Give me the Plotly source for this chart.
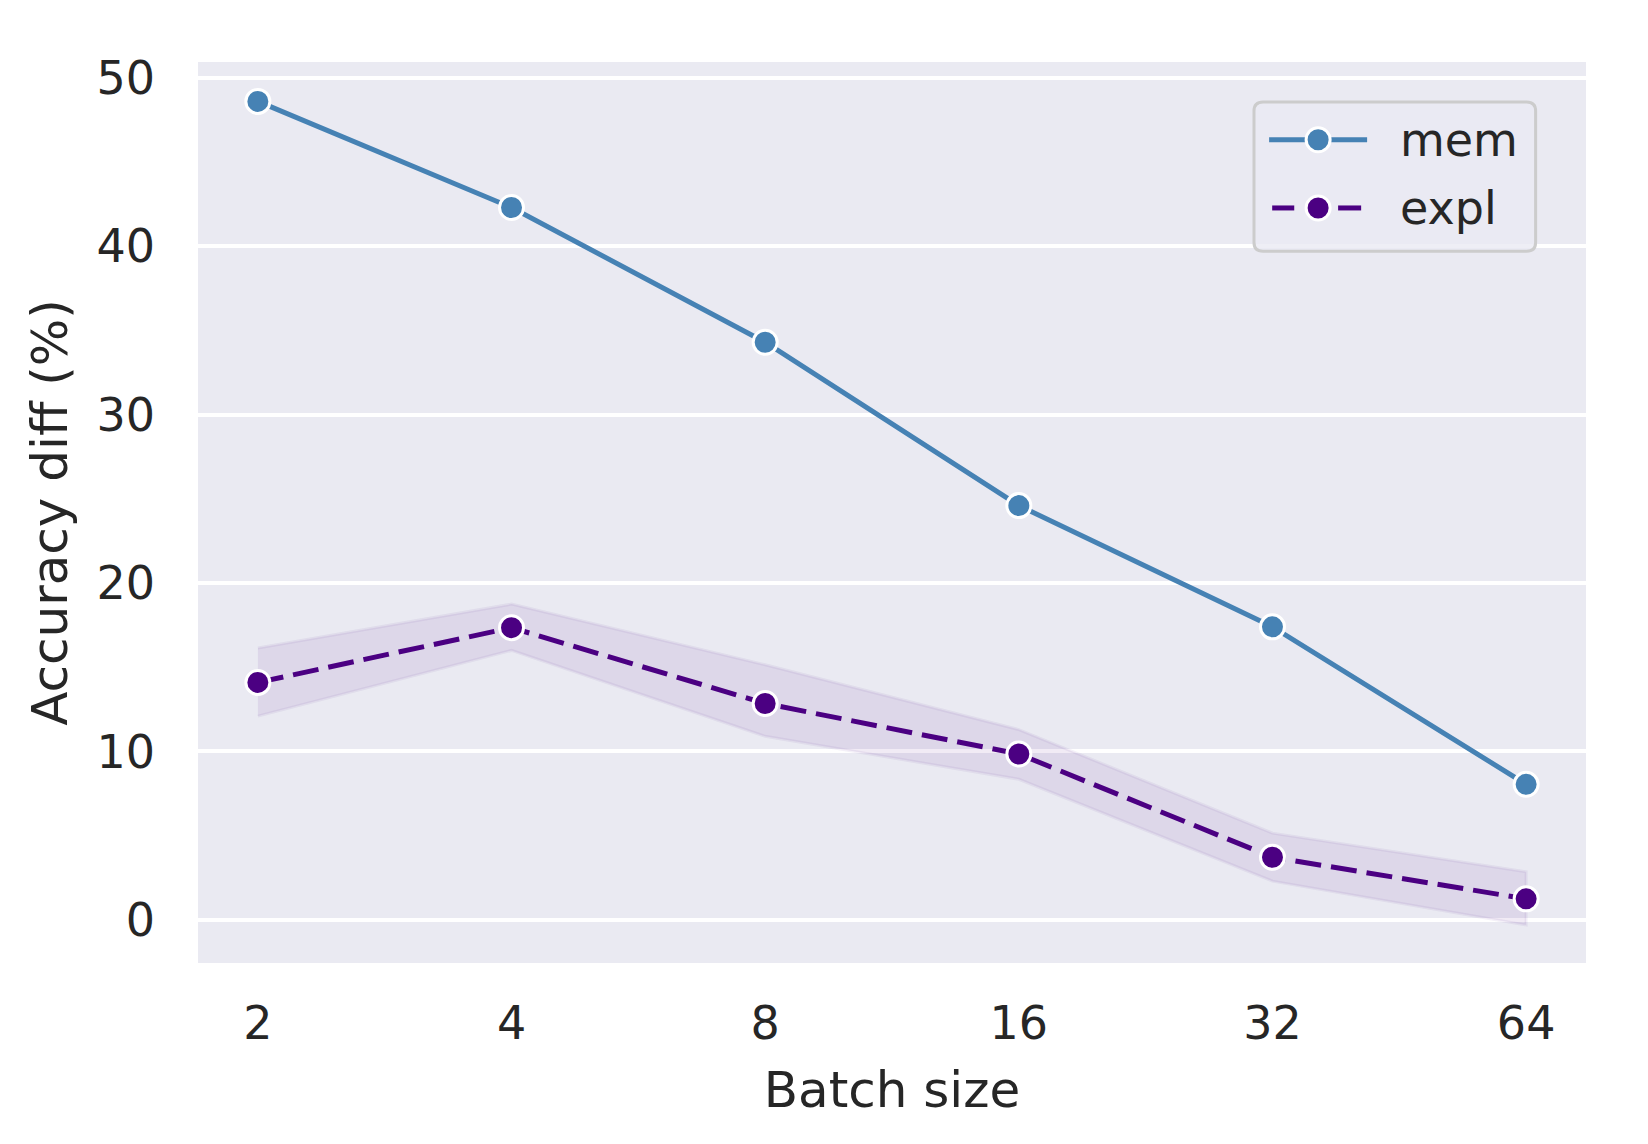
import plotly.graph_objects as go

batch_sizes = ["2", "4", "8", "16", "32", "64"]
mem_values = [48.6, 42.3, 34.3, 24.6, 17.4, 8.05]
expl_values = [14.1, 17.35, 12.85, 9.85, 3.72, 1.25]
expl_upper = [16.15, 18.75, 15.15, 11.3, 5.15, 2.85]
expl_lower = [12.1, 16.0, 10.9, 8.35, 2.3, -0.3]
series_names = ["mem", "expl"]

FONT = "DejaVu Sans"
BG = "#EAEAF2"
MEM_C = "#4682B4"
EXPL_C = "#4B0082"
TXT = "#262626"

fig = go.Figure()

# confidence band for expl
fig.add_trace(go.Scatter(
    x=batch_sizes + batch_sizes[::-1],
    y=expl_upper + expl_lower[::-1],
    fill="toself", fillcolor="rgba(75,0,130,0.08)",
    line=dict(color="rgba(75,0,130,0.06)", width=3),
    mode="lines", hoverinfo="skip", showlegend=False,
))

fig.add_trace(go.Scatter(
    x=batch_sizes, y=mem_values, name=series_names[0], mode="lines+markers",
    line=dict(color=MEM_C, width=5),
    marker=dict(size=24, color=MEM_C, line=dict(color="white", width=3)),
    showlegend=False,
))
fig.add_trace(go.Scatter(
    x=batch_sizes, y=expl_values, name=series_names[1], mode="lines+markers",
    line=dict(color=EXPL_C, width=5, dash="26px,10px"),
    marker=dict(size=24, color=EXPL_C, line=dict(color="white", width=3)),
    showlegend=False,
))

# manual legend (paper coordinates)
bx0, bx1, by0, by1 = 0.7608, 0.9637, 0.790, 0.9557
rx, ry = 0.0065, 0.0100
path = (f"M {bx0+rx},{by1} L {bx1-rx},{by1} Q {bx1},{by1} {bx1},{by1-ry} "
        f"L {bx1},{by0+ry} Q {bx1},{by0} {bx1-rx},{by0} "
        f"L {bx0+rx},{by0} Q {bx0},{by0} {bx0},{by0+ry} "
        f"L {bx0},{by1-ry} Q {bx0},{by1} {bx0+rx},{by1} Z")
shapes = [dict(type="path", path=path, xref="paper", yref="paper",
               fillcolor="rgba(234,234,242,0.8)", line=dict(color="#CCCCCC", width=3))]
row_y = [0.9137, 0.838]
mx = 0.807
# mem: solid line
shapes.append(dict(type="line", xref="paper", yref="paper", x0=0.7717, x1=0.8423,
                   y0=row_y[0], y1=row_y[0], line=dict(color=MEM_C, width=5)))
# expl: two dash segments
for a, b in [(0.7739, 0.7898), (0.8214, 0.8380)]:
    shapes.append(dict(type="line", xref="paper", yref="paper", x0=a, x1=b,
                       y0=row_y[1], y1=row_y[1], line=dict(color=EXPL_C, width=5)))
for yy, col in zip(row_y, [MEM_C, EXPL_C]):
    shapes.append(dict(type="circle", xref="paper", yref="paper",
                       xsizemode="pixel", ysizemode="pixel", xanchor=mx, yanchor=yy,
                       x0=-12, x1=12, y0=-12, y1=12, fillcolor=col,
                       line=dict(color="white", width=3)))
annotations = [dict(x=0.8645, y=yy, xref="paper", yref="paper", text=nm,
                    showarrow=False, xanchor="left", yanchor="middle",
                    font=dict(family=FONT, size=46, color=TXT))
               for yy, nm in zip(row_y, series_names)]

fig.update_layout(
    width=1648, height=1144,
    margin=dict(l=190, r=70, t=54, b=189),
    paper_bgcolor="white", plot_bgcolor=BG,
    font=dict(family=FONT, size=46, color=TXT),
    shapes=shapes, annotations=annotations,
    showlegend=False,
)

fig.update_xaxes(
    type="category", range=[-0.236, 5.236],
    showgrid=False, zeroline=False, showline=False,
    ticks="", ticklabelstandoff=29,
    tickfont=dict(family=FONT, size=46, color=TXT),
    title=dict(text="Batch size", standoff=22,
               font=dict(family=FONT, size=50, color=TXT)),
)
fig.update_yaxes(
    range=[-2.56, 50.94], tickvals=[0, 10, 20, 30, 40, 50],
    showgrid=True, gridcolor="white", gridwidth=3.5,
    zeroline=False, showline=False,
    ticks="", ticklabelstandoff=42,
    tickfont=dict(family=FONT, size=46, color=TXT),
    title=dict(text="Accuracy diff (%)", standoff=12,
               font=dict(family=FONT, size=50, color=TXT)),
)

fig.write_html("out.html")
